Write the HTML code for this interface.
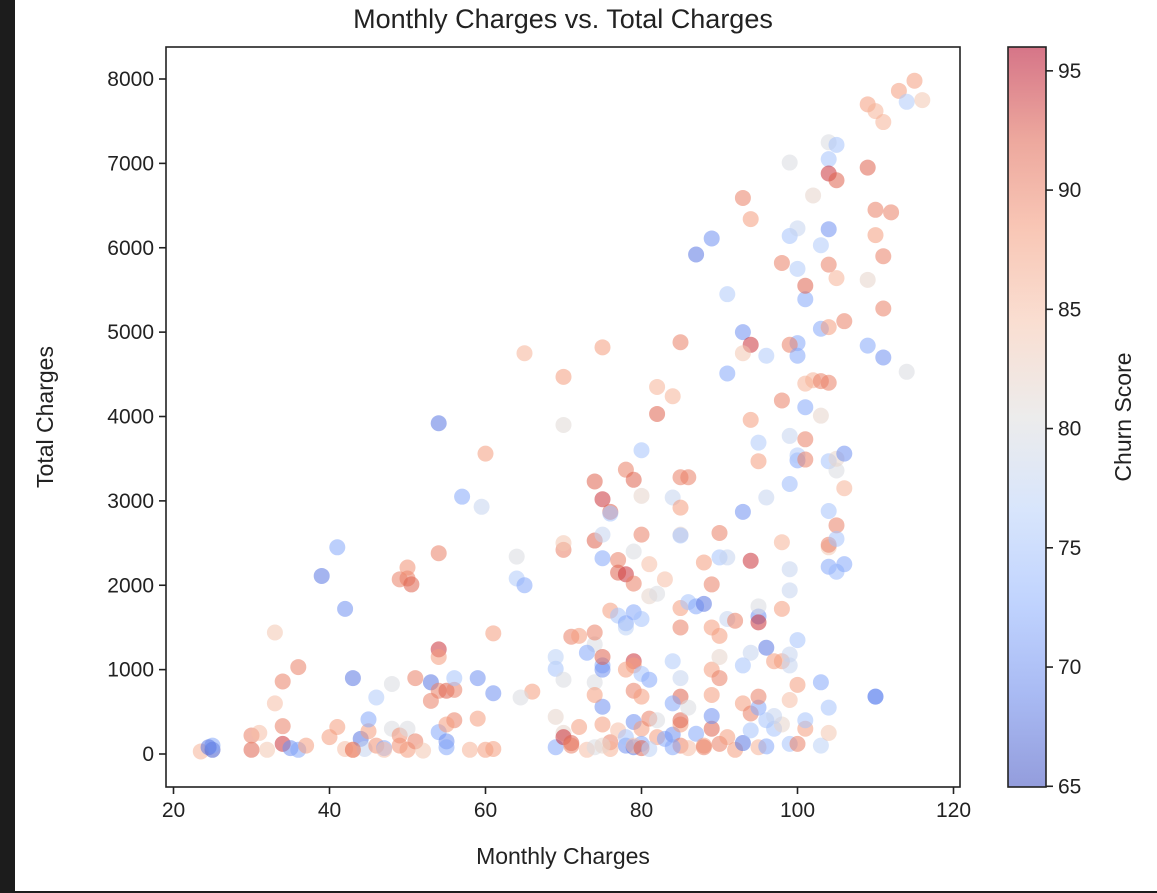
<!DOCTYPE html>
<html><head><meta charset="utf-8"><style>
body{margin:0;background:#fff;}
svg{display:block;font-family:"Liberation Sans","DejaVu Sans",sans-serif;}
</style></head><body>
<svg id="chart" width="1157" height="893" viewBox="0 0 1157 893">
<rect x="0" y="0" width="1157" height="893" fill="#fff"/>
<rect x="0" y="0" width="15" height="893" fill="#1c1c1c"/>
<rect x="0" y="891" width="1157" height="2" fill="#1c1c1c"/>
<defs>
<linearGradient id="cw" x1="0" y1="1" x2="0" y2="0">
<stop offset="0" stop-color="rgb(59,76,192)"/>
<stop offset="0.125" stop-color="rgb(98,130,234)"/>
<stop offset="0.25" stop-color="rgb(141,176,254)"/>
<stop offset="0.375" stop-color="rgb(184,208,249)"/>
<stop offset="0.5" stop-color="rgb(221,220,220)"/>
<stop offset="0.625" stop-color="rgb(245,196,173)"/>
<stop offset="0.75" stop-color="rgb(244,154,123)"/>
<stop offset="0.875" stop-color="rgb(222,96,77)"/>
<stop offset="1" stop-color="rgb(180,4,38)"/>
</linearGradient>
<clipPath id="clip"><rect x="166" y="47" width="794" height="740"/></clipPath>
</defs>
<text x="563" y="28" font-size="27" text-anchor="middle" fill="#222">Monthly Charges vs. Total Charges</text>
<g id="points" clip-path="url(#clip)"></g>
<rect x="166" y="47" width="794" height="740" fill="none" stroke="#222" stroke-width="1.6"/>
<g id="xaxis"></g><g id="yaxis"></g>
<text x="563" y="864" font-size="23" text-anchor="middle" fill="#222">Monthly Charges</text>
<text transform="translate(53,417) rotate(-90)" font-size="23" text-anchor="middle" fill="#222">Total Charges</text>
<rect x="1008" y="47" width="38" height="740" fill="url(#cw)" fill-opacity="0.55" stroke="#222" stroke-width="1.6"/>
<g id="cbaxis"></g>
<text transform="translate(1131,417) rotate(-90)" font-size="23" text-anchor="middle" fill="#222">Churn Score</text>
</svg>
<script>
const monthly=[23.5,25,25,24.5,30,30,31,34,35,36,37,34,32,40,41,42,43,44,44.5,45,46,45,46,47,48,49,49,50,50,51,52,54,55,55,56,58,59,60,61,55,47,43,
33,33,34,36,43,48,51,50,49,50,50.5,54,54,54,53,54,55,56,56,53,39,41,42,54,57,59.5,60,59,61,61,64,64,65,65,66,64.5,
69,69,70,70,71,71,72,73,74,74,75,75,76,76,77,78,78,79,79,80,80,81,82,83,84,85,85,86,87,88,89,90,91,92,93,94,95,96,97,98,99,100,101,103,104,79,80,75,88,84,81,
69,69,70,71,72,73,74,74,75,75,75,74,76,77,78,78,79,79,79,79,80,80,81,81,82,80,78,83,84,85,85,85,85,86,87,88,89,89,90,90,89,91,92,93,94,95,95,95,96,97,98,98,99,99,100,100,99,101,103,104,110,93,94,95,95,96,97,90,89,85,86,82,84,
70,70,74,74,75,75,75,76,76,77,77,78,78,79,79,79,80,80,80,81,82,82,84,84,85,85,86,85,85,85,70,70,75,88,89,90,90,91,87,89,91,91,93,94,93,93,94,94,95,95,96,96,98,98,99,99,99,100,100,99,100,99,101,101,101,101,102,103,103,104,104,104,104,104,105,105,106,106,105,105,104,105,106,
93,94,98,99,99,100,100,100,101,101,102,103,103,104,104,104,104,105,105,104,104,105,106,109,109,109,110,111,109,110,110,111,111,111,112,113,114,115,116,114,110];
const total=[30,50,100,80,50,220,250,120,70,50,100,330,50,200,320,60,50,180,60,270,100,410,670,70,300,100,220,300,50,150,40,260,150,80,400,50,420,50,60,350,50,50,
1440,600,860,1030,900,830,900,2080,2070,2210,2010,2380,1240,1150,850,750,750,760,900,630,2110,2450,1720,3920,3050,2930,3560,900,720,1430,2340,2080,2000,4750,740,670,
80,440,250,200,130,100,320,50,80,1300,560,350,140,60,280,100,200,380,80,300,120,420,200,180,230,350,100,70,240,100,300,120,200,50,130,280,80,90,300,350,120,120,300,100,250,100,70,100,80,80,60,
1010,1150,880,1390,1400,1200,1440,850,1050,1000,1150,700,1700,1640,1550,1500,1680,1100,1050,750,680,950,880,1870,1900,1600,1000,2070,1100,900,680,1500,1730,1800,1750,1780,1500,1000,1400,900,700,1600,1580,1050,1200,1630,1560,1750,1260,1100,1100,1720,1050,1180,1350,820,640,400,850,550,680,600,480,550,680,400,450,1150,450,400,550,400,600,
2420,2500,2530,3230,3020,2320,2600,2870,2850,2300,2150,2130,3370,3250,2400,2020,2600,3060,3600,2250,4030,4350,4240,3040,3280,2920,3280,2600,2590,4880,4470,3900,4820,2270,2010,2620,2330,2330,5920,6110,5450,4510,5000,4850,4750,2870,2290,3960,3470,3690,3040,4720,4190,2510,2190,1940,3200,3480,3540,3770,4870,4850,3730,3490,4110,4390,4430,4010,4420,4400,3470,2880,2450,2480,3360,3500,3560,3150,2710,2550,2220,2160,2250,
6590,6340,5820,7010,6140,6230,5750,4720,5390,5550,6620,6030,5040,5060,7250,7050,6880,7220,6800,6220,5800,5640,5130,5620,6950,7700,7620,7490,4840,6150,6450,5900,5280,4700,6420,7860,7730,7980,7750,4530,680];
const churn=[86,66,72,68,92,90,85,94,70,72,88,90,84,88,88,85,88,68,78,88,89,72,76,72,80,89,89,80,88,90,84,72,70,72,90,86,88,88,88,88,85,90,
84,85,90,90,68,80,90,90,90,89,92,90,94,88,68,90,92,90,75,90,68,72,70,68,72,78,88,70,70,88,80,76,72,86,88,80,
72,82,82,94,92,90,88,85,80,80,70,88,90,86,85,70,75,70,68,88,72,90,88,72,70,88,90,85,72,88,92,90,88,88,68,75,86,72,75,82,75,90,88,77,84,85,92,82,90,72,77,
75,77,80,90,88,72,90,80,72,70,92,88,88,75,72,77,72,94,88,90,88,75,72,82,80,75,88,85,76,78,92,90,88,75,72,68,88,88,88,90,88,78,90,75,78,70,94,80,68,88,88,88,78,78,75,88,85,75,72,75,70,88,90,72,90,75,78,82,70,92,80,80,72,
90,84,92,92,94,72,78,92,75,90,92,94,90,92,80,90,90,82,75,85,92,86,86,78,90,88,90,82,75,90,88,81,88,88,90,90,75,78,68,70,76,72,70,94,84,70,94,88,88,76,78,76,90,86,78,78,74,72,76,78,72,90,90,90,72,86,86,82,90,90,75,75,84,90,80,82,70,86,90,75,72,74,72,
90,88,90,80,75,78,76,72,72,92,82,76,72,88,80,75,94,75,92,70,90,86,90,82,92,88,86,86,72,88,90,90,90,70,90,88,76,88,84,80,70];
const xTicks=[20,40,60,80,100,120];
const yTicks=[0,1000,2000,3000,4000,5000,6000,7000,8000];
const cTicks=[65,70,75,80,85,90,95];
const X0=166,X1=960,Y0=47,Y1=787;
const xScale=v=>173.5+(v-20)*7.8;
const yScale=v=>754-v*0.084375;
const cMin=64.97,cMax=96.0;
const cScale=v=>787-(v-cMin)/(cMax-cMin)*740;
const anchors=[[59,76,192],[98,130,234],[141,176,254],[184,208,249],[221,220,220],[245,196,173],[244,154,123],[222,96,77],[180,4,38]];
function cmap(v){let t=Math.max(0,Math.min(1,(v-cMin)/(cMax-cMin)))*8;let i=Math.min(7,Math.floor(t)),f=t-i;const a=anchors[i],b=anchors[i+1];return `rgb(${a.map((c,k)=>Math.round(c+(b[k]-c)*f)).join(',')})`;}
const NS='http://www.w3.org/2000/svg';
const pg=document.getElementById('points');
for(let i=0;i<monthly.length;i++){
 const c=document.createElementNS(NS,'circle');
 c.setAttribute('cx',xScale(monthly[i]));c.setAttribute('cy',yScale(total[i]));c.setAttribute('r',8);
 c.setAttribute('fill',cmap(churn[i]));c.setAttribute('fill-opacity',0.55);
 
 
 pg.appendChild(c);
}
function mk(tag,attrs,parent,txt){const e=document.createElementNS(NS,tag);for(const k in attrs)e.setAttribute(k,attrs[k]);if(txt!==undefined)e.textContent=txt;parent.appendChild(e);return e;}
const xa=document.getElementById('xaxis');
xTicks.forEach(v=>{const x=xScale(v);
 const l=mk('line',{x1:x,x2:x,y1:Y1,y2:Y1+7,stroke:'#222','stroke-width':1.6},xa);
 
 
 const t=mk('text',{x:x,y:Y1+30,'font-size':21,'text-anchor':'middle',fill:'#222'},xa,v);
 
 });
const ya=document.getElementById('yaxis');
yTicks.forEach(v=>{const y=yScale(v);
 const l=mk('line',{x1:X0-7,x2:X0,y1:y,y2:y,stroke:'#222','stroke-width':1.6},ya);
 
 
 const t=mk('text',{x:X0-12,y:y+7,'font-size':21,'text-anchor':'end',fill:'#222'},ya,v);
 
 });
const ca=document.getElementById('cbaxis');
cTicks.forEach(v=>{const y=cScale(v);
 const l=mk('line',{x1:1046,x2:1053,y1:y,y2:y,stroke:'#222','stroke-width':1.6},ca);
 
 
 const t=mk('text',{x:1058,y:y+7,'font-size':21,fill:'#222'},ca,v);
 
 });
</script>
</body></html>
